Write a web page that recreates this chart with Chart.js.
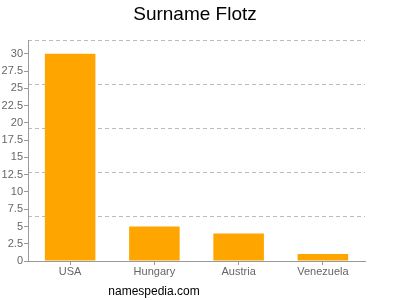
<!DOCTYPE html>
<html>
<head>
<meta charset="utf-8">
<script src="https://cdn.jsdelivr.net/npm/chart.js@4/dist/chart.umd.min.js"></script>
<style>
html,body{margin:0;padding:0;background:#fff;}
#wrap{width:400px;height:300px;position:relative;}
</style>
</head>
<body>
<div id="wrap"><canvas id="c" width="400" height="300"></canvas></div>
<script>
const categories = ["USA", "Hungary", "Austria", "Venezuela"];
const counts = [30, 5, 4, 1];
const labelTicks = [0, 2.5, 5, 7.5, 10, 12.5, 15, 17.5, 20, 22.5, 25, 27.5, 30];
const gridTicks = [6.4, 12.8, 19.2, 25.6, 32];
const titleText = "Surname Flotz";
const footerText = "namespedia.com";

const textPlugin = {
  id: 'textPlugin',
  afterDraw(chart) {
    const ctx = chart.ctx;
    ctx.save();
    ctx.fillStyle = '#000';
    ctx.textAlign = 'center';
    ctx.textBaseline = 'alphabetic';
    ctx.font = '19px "Liberation Sans", Arial, sans-serif';
    ctx.fillText(titleText, 195, 20);
    ctx.font = '12px "Liberation Sans", Arial, sans-serif';
    ctx.fillText(footerText, 154, 295);
    ctx.restore();
  }
};

new Chart(document.getElementById('c'), {
  type: 'bar',
  data: {
    labels: categories,
    datasets: [{
      data: counts,
      backgroundColor: '#FFA500',
      borderWidth: 0,
      barPercentage: 0.6,
      categoryPercentage: 1.0
    }]
  },
  options: {
    responsive: false,
    animation: false,
    layout: { padding: { top: 40, right: 35, left: 0, bottom: 0 } },
    plugins: { legend: { display: false }, title: { display: false }, tooltip: { enabled: false } },
    scales: {
      x: {
        offset: true,
        grid: { display: true, drawOnChartArea: false, offset: false, tickLength: 4, color: '#999' },
        border: { display: true, color: '#999' },
        ticks: { color: '#666', font: { size: 11, family: '"Liberation Sans", Arial, sans-serif' }, padding: 0 },
        afterFit(s) { s.height = 39; }
      },
      y: {
        position: 'left',
        min: 0, max: 32,
        afterBuildTicks(s) { s.ticks = labelTicks.map(v => ({ value: v })); },
        grid: { display: true, drawOnChartArea: false, tickLength: 4, color: '#999' },
        border: { display: true, color: '#999' },
        ticks: { color: '#666', font: { size: 11, family: '"Liberation Sans", Arial, sans-serif' }, padding: 1 },
        afterFit(s) { s.width = 28; }
      },
      y2: {
        position: 'left',
        min: 0, max: 32,
        afterBuildTicks(s) { s.ticks = gridTicks.map(v => ({ value: v })); },
        grid: { display: true, drawTicks: false, color: '#bbb' },
        border: { display: false, dash: [4, 3] },
        ticks: { display: false },
        afterFit(s) { s.width = 0; }
      }
    }
  },
  plugins: [textPlugin]
});
</script>
</body>
</html>
